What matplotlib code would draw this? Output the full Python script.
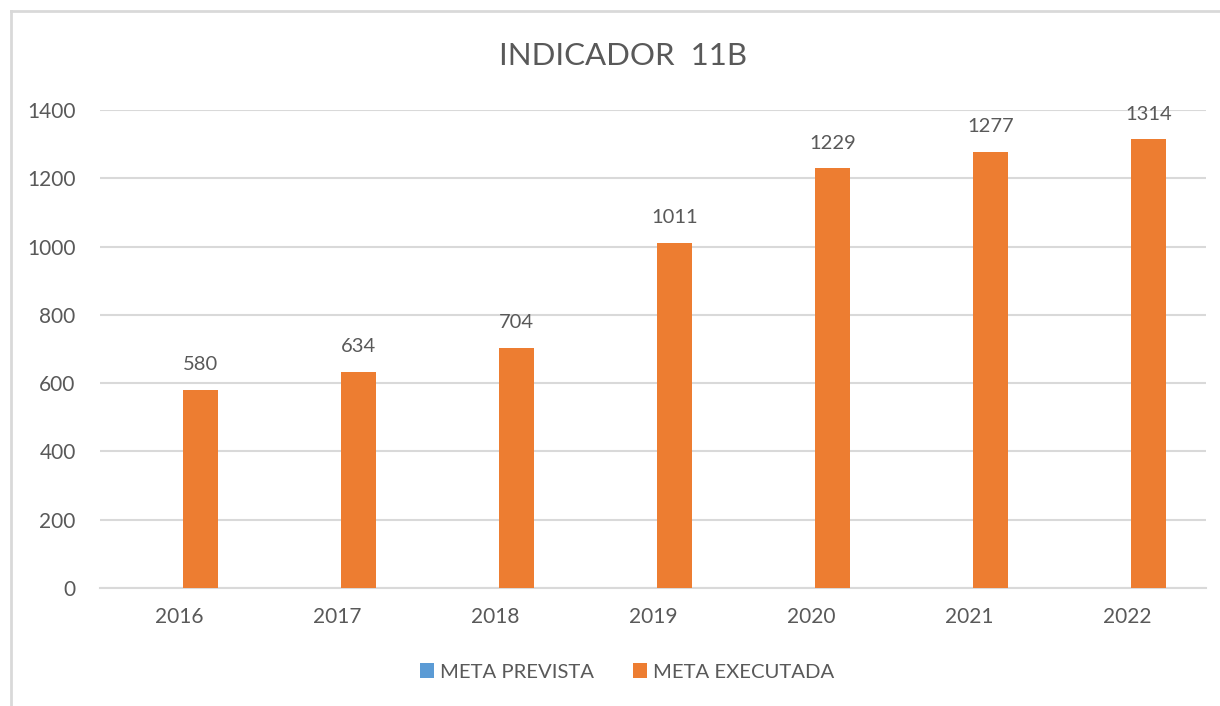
import matplotlib
matplotlib.use("Agg")
import matplotlib.pyplot as plt
import numpy as np
from matplotlib.lines import Line2D
from matplotlib.patches import Patch

years = ["2016", "2017", "2018", "2019", "2020", "2021", "2022"]
meta_prevista = [0, 0, 0, 0, 0, 0, 0]
meta_executada = [580, 634, 704, 1011, 1229, 1277, 1314]

title = "INDICADOR  11B"
series_names = ["META PREVISTA", "META EXECUTADA"]
colors = ["#5B9BD5", "#ED7D31"]
text_color = "#595959"
grid_color = "#D9D9D9"

plt.rcParams['font.family'] = ['Lato', 'DejaVu Sans']

W, H = 1220, 706
fig = plt.figure(figsize=(W / 100, H / 100), dpi=100)
ax = fig.add_axes([100 / W, 1 - 588 / H, (1206 - 100) / W, (588 - 110) / H])

x = np.arange(len(years))
bw = 35 / 158
off = 21.5 / 158
ax.bar(x - off, meta_prevista, width=bw, color=colors[0], zorder=3)
ax.bar(x + off, meta_executada, width=bw, color=colors[1], zorder=3)

for xi, v in zip(x, meta_executada):
    ax.annotate(str(v), (xi + off, v), xytext=(0, 12), textcoords="offset points",
                ha="center", va="bottom", fontsize=14.5, color=text_color)

ax.set_xlim(-0.5, len(years) - 0.5)
ax.set_ylim(0, 1400)
ax.set_yticks(np.arange(0, 1401, 200))
ax.set_xticks(x)
ax.set_xticklabels(years)
ax.tick_params(axis="both", length=0, labelsize=15, labelcolor=text_color)
ax.tick_params(axis="y", pad=17.5)
ax.tick_params(axis="x", pad=14)
ax.yaxis.grid(True, color=grid_color, linewidth=1.5, zorder=0)
for s in ["top", "right", "left"]:
    ax.spines[s].set_visible(False)
ax.spines["bottom"].set_color(grid_color)
ax.spines["bottom"].set_linewidth(1.5)

fig.text(623 / W, 1 - 56 / H, title, ha="center", va="center", fontsize=22.5, color=text_color)

handles = [Patch(facecolor=c, edgecolor="none") for c in colors]
fig.legend(handles, series_names, loc="center", bbox_to_anchor=(627 / W, 1 - 672 / H),
           ncol=2, frameon=False, fontsize=14.6, labelcolor=text_color,
           handlelength=0.7, handleheight=0.7, handletextpad=0.3, columnspacing=1.9)

# chart border (top and left edges visible)
fig.add_artist(Line2D([11 / W, 1.0], [1 - 11 / H, 1 - 11 / H], color=grid_color, linewidth=2, transform=fig.transFigure))
fig.add_artist(Line2D([11 / W, 11 / W], [0, 1 - 11 / H], color=grid_color, linewidth=2, transform=fig.transFigure))

fig.savefig("out.png", dpi=100)
